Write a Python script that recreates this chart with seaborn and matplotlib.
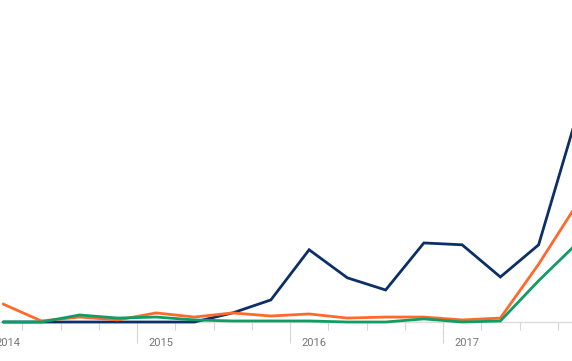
import numpy as np
import pandas as pd
import matplotlib
matplotlib.use("Agg")
import matplotlib.pyplot as plt
import matplotlib.transforms as mtransforms
import seaborn as sns

# quarterly samples (plotted mid-quarter), 2014 Q1 .. 2017 Q4
quarters = [f"{y}-Q{q}" for y in range(2014, 2018) for q in range(1, 5)]
navy_vals = [0, 0, 0, 0, 0, 0, 4.4, 10.7, 35, 21.4, 15.5, 38.3, 37.4, 21.8, 37.4, 100]
orange_vals = [8.7, 0.5, 2.4, 1, 4.4, 2.4, 4.4, 2.9, 3.9, 1.9, 2.4, 2.4, 1, 1.9, 28, 57]
green_vals = [0, 0, 3.4, 1.9, 2.4, 1, 0.5, 0.5, 0.5, 0, 0, 1.5, 0, 0.5, 20, 38]
series_names = ["navy", "orange", "green"]
colors = ["#0b2f66", "#ff6a2c", "#0f9d63"]
years = [2014, 2015, 2016, 2017]


def quarter_pos(label):
    y, q = label.split("-Q")
    return int(y) + (int(q) - 1) / 4 + 0.125


x = [quarter_pos(q) for q in quarters]
df = pd.DataFrame({
    "x": x * 3,
    "value": navy_vals + orange_vals + green_vals,
    "series": np.repeat(series_names, len(x)),
})

sns.set_style("white")
plt.rcParams["font.family"] = ["Roboto", "DejaVu Sans"]

fig = plt.figure(figsize=(5.72, 3.61), dpi=100)
ax = fig.add_axes([0, 39 / 361, 1, 322 / 361])

ax.axhline(0, color="#dcdcdc", lw=1, zorder=0, clip_on=False)

sns.lineplot(data=df, x="x", y="value", hue="series", palette=colors,
             linewidth=2, legend=False, ax=ax)
for ln in ax.lines:
    ln.set_clip_on(False)
    ln.set_solid_joinstyle("miter")

for s in ax.spines.values():
    s.set_visible(False)
ax.set_yticks([])
ax.set_xlabel("")
ax.set_ylabel("")

ax.set_xticks(years)
ax.set_xticklabels([])
minor = [y + q / 4 for y in range(2013, 2019) for q in range(1, 4)]
ax.set_xticks(minor, minor=True)
ax.tick_params(axis="x", which="major", length=15, width=0.8, color="#d6d6d6",
               bottom=True)
ax.tick_params(axis="x", which="minor", length=6, width=0.8, color="#d6d6d6",
               bottom=True)

# limits last, set_xticks would widen them
ax.set_xlim(2014 + 16 / 153, 2014 + 588 / 153)
ax.set_ylim(0, 156)

# lines run past the right edge, so clip them to the figure only
for ln in ax.lines[1:]:
    ln.set_clip_on(True)
    ln.set_clip_box(fig.bbox)

trans = mtransforms.blended_transform_factory(ax.transData, ax.transAxes)
for y in years:
    ax.text(y + 24 / 153, -21 / 322, str(y), transform=trans, ha="center",
            va="center", fontsize=8, color="#757575", clip_on=False)

fig.savefig("out.png", dpi=100)
